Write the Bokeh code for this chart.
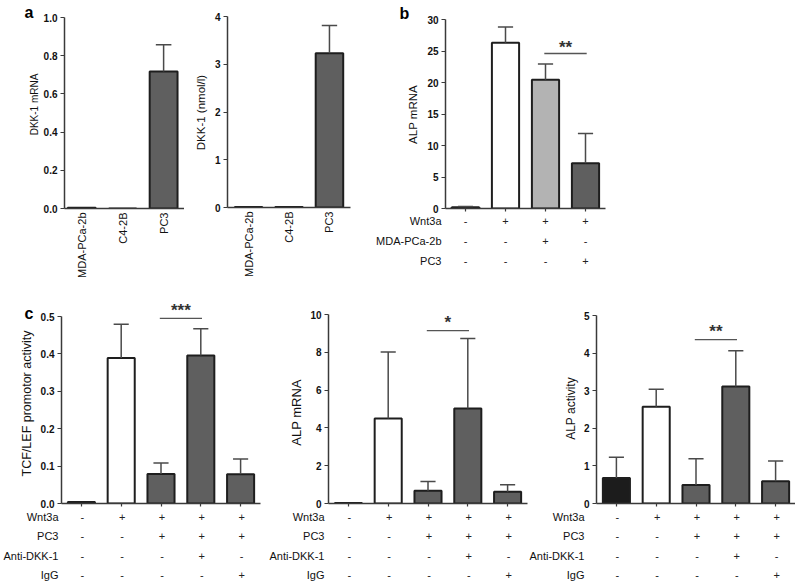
import math
from bokeh.plotting import figure
from bokeh.models import ColumnDataSource, FixedTicker, Range1d, PrintfTickFormatter
from bokeh.layouts import row, column
from bokeh.embed import file_html
from bokeh.resources import INLINE
from bokeh.core.properties import value

FONT = "Liberation Sans"
INK = "#111111"
AXIS = "#3a3a3a"
WHISK = "#4a4a4a"

# ---------------- data ----------------
a_cats = ["MDA-PCa-2b", "C4-2B", "PC3"]
a1_mrna = [0.004, 0.0, 0.717]
a1_top = [None, None, 0.857]
a2_nmol = [0.012, 0.012, 3.23]
a2_top = [None, None, 3.81]

b_alp = [0.2, 26.3, 20.45, 7.2]
b_top = [0.3, 28.8, 22.95, 11.9]
b_row_names = ["Wnt3a", "MDA-PCa-2b", "PC3"]
b_wnt3a = ["-", "+", "+", "+"]
b_mda = ["-", "-", "+", "-"]
b_pc3 = ["-", "-", "-", "+"]
b_sig = [2, 3, 24.6, "**"]

c_row_names = ["Wnt3a", "PC3", "Anti-DKK-1", "IgG"]
c_wnt3a = ["-", "+", "+", "+", "+"]
c_pc3 = ["-", "-", "+", "+", "+"]
c_anti = ["-", "-", "-", "+", "-"]
c_igg = ["-", "-", "-", "-", "+"]

c1_tcf = [0.004, 0.389, 0.079, 0.396, 0.078]
c1_top = [None, 0.479, 0.108, 0.467, 0.119]
c1_sig = [2, 3, 0.495, "***"]

c2_alp = [0.02, 4.5, 0.68, 5.03, 0.62]
c2_top = [None, 8.02, 1.16, 8.73, 0.99]
c2_sig = [2, 3, 9.15, "*"]

c3_act = [0.68, 2.57, 0.49, 3.11, 0.59]
c3_top = [1.23, 3.04, 1.19, 4.06, 1.13]
c3_sig = [2, 3, 4.36, "**"]

# ---------------- styles ----------------
DARK = "#5f5f5f"
a_colors = [DARK, DARK, DARK]
b_colors = ["#1a1a1a", "#ffffff", "#b3b3b3", DARK]
c_colors = ["#1a1a1a", "#ffffff", DARK, DARK, DARK]
c3_colors = ["#1c1c1c", "#ffffff", DARK, DARK, DARK]


def base_fig(x_range, y_range, frame, fig, **kw):
    fl, fr, ft, fb = frame
    gl, gr, gt, gb = fig
    p = figure(x_range=x_range, y_range=y_range,
               frame_width=fr - fl, frame_height=fb - ft,
               min_border_left=fl - gl, min_border_right=gr - fr,
               min_border_top=ft - gt, min_border_bottom=gb - fb,
               title_location=None, frame_align=False,
               output_backend="svg", toolbar_location=None, **kw)
    p.outline_line_color = None
    p.grid.visible = False
    p.background_fill_color = "white"
    p.border_fill_color = "white"
    return p


def pixel_fig(gl, gr, gt, gb):
    """text-only strip; data coordinates are page pixels (x, -y)"""
    return base_fig(Range1d(gl, gr), Range1d(-gb, -gt), (gl, gr, gt, gb), (gl, gr, gt, gb),
                    x_axis_location=None, y_axis_location=None)


def axis_title(p, text, cx, cy, size):
    p.text(x=[cx], y=[-cy], text=[text], angle=math.pi / 2, text_align="center",
           text_baseline="middle", text_font=value(FONT), text_font_size=size,
           text_color=INK)


def letter(p, text, lx, base_y):
    p.text(x=[lx], y=[-base_y], text=[text], text_align="left",
           text_baseline="alphabetic", text_font=value(FONT), text_font_style="bold",
           text_font_size="16px", text_color="#000000")


def chart(frame, fig, xr, yr, vals, tops, colors, yticks, yfmt, ybounds=None,
          xlabels=None, sig=None, star_py=None, star_size="17px"):
    fl, fr, ft, fb = frame
    p = base_fig(Range1d(*xr), Range1d(*yr), frame, fig)
    xa, ya = p.xaxis[0], p.yaxis[0]
    for ax in (xa, ya):
        ax.axis_line_color = AXIS
        ax.axis_line_width = 1.5
        ax.major_tick_line_color = AXIS
        ax.major_tick_line_width = 1.2
        ax.minor_tick_line_color = None
        ax.major_tick_in = 0
    ya.ticker = FixedTicker(ticks=yticks)
    ya.formatter = PrintfTickFormatter(format=yfmt)
    if ybounds is not None:
        ya.bounds = ybounds
    ya.major_tick_out = 4
    ya.major_label_standoff = 3
    ya.major_label_text_font = FONT
    ya.major_label_text_font_style = "bold"
    ya.major_label_text_font_size = "10px"
    ya.major_label_text_color = INK

    n = len(vals)
    if xlabels is not None:
        xa.ticker = FixedTicker(ticks=list(range(n)))
        xa.major_tick_out = 0
        xa.major_label_overrides = {i: lab for i, lab in enumerate(xlabels)}
        xa.major_label_orientation = math.pi / 2
        xa.major_label_standoff = 4
        xa.major_label_text_font = FONT
        xa.major_label_text_font_size = "11px"
        xa.major_label_text_color = INK
    else:
        xa.ticker = FixedTicker(ticks=[], minor_ticks=list(range(n)))
        xa.major_tick_out = 0
        xa.major_label_standoff = 0
        xa.minor_tick_line_color = AXIS
        xa.minor_tick_line_width = 1.2
        xa.minor_tick_in = 0
        xa.minor_tick_out = 3

    src = ColumnDataSource(dict(x=list(range(n)), top=vals, color=colors))
    p.vbar(x="x", top="top", bottom=0, width=0.68, source=src, fill_color="color",
           line_color="#1e1e1e", line_width=2)
    ex = [i for i, t in enumerate(tops) if t is not None]
    if ex:
        p.segment(x0=ex, y0=[vals[i] for i in ex], x1=ex, y1=[tops[i] for i in ex],
                  line_color=WHISK, line_width=1.5)
        p.segment(x0=[i - 0.19 for i in ex], y0=[tops[i] for i in ex],
                  x1=[i + 0.19 for i in ex], y1=[tops[i] for i in ex],
                  line_color=WHISK, line_width=1.5)
    if sig is not None:
        i0, i1, yv, stars = sig
        p.segment(x0=[i0 - 0.03], y0=[yv], x1=[i1 + 0.03], y1=[yv],
                  line_color="#555555", line_width=1.3)
        sy = yr[0] + (fb - star_py) / (fb - ft) * (yr[1] - yr[0])
        p.text(x=[(i0 + i1) / 2], y=[sy], text=[stars], text_align="center",
               text_baseline="middle", text_font=value(FONT), text_font_style="bold",
               text_font_size=star_size, text_color="#333333")
    return p


def table(frame, fig, xr, names, rows, row0, step, name_right):
    fl, fr, ft, fb = frame
    r_top = (ft - row0) / step
    r_bot = (fb - row0) / step
    p = base_fig(Range1d(*xr), Range1d(-r_bot, -r_top), frame, fig,
                 x_axis_location=None)
    ya = p.yaxis[0]
    ya.ticker = FixedTicker(ticks=[-i for i in range(len(names))])
    ya.major_label_overrides = {-i: nm for i, nm in enumerate(names)}
    ya.axis_line_color = None
    ya.major_tick_line_color = None
    ya.minor_tick_line_color = None
    ya.major_tick_in = 0
    ya.major_tick_out = 0
    ya.major_label_standoff = fl - name_right
    ya.major_label_text_font = FONT
    ya.major_label_text_font_style = "normal"
    ya.major_label_text_font_size = "11px"
    ya.major_label_text_color = INK
    n = len(rows[0])
    for i, signs in enumerate(rows):
        p.text(x=list(range(n)), y=[-i] * n, text=signs, text_align="center",
               text_baseline="middle", text_font=value(FONT), text_font_size="11px",
               text_color="#222222")
    return p


# ================= top row =================
a1L = pixel_fig(0, 40, 0, 300)
letter(a1L, "a", 24, 12)
axis_title(a1L, "DKK-1 mRNA", 34, 104, "10px")
pa1 = chart((62, 182, 17, 208), (40, 182, 0, 300), (-0.42, 2.51), (0, 1.0),
            a1_mrna, a1_top, a_colors, [0, 0.2, 0.4, 0.6, 0.8, 1.0], "%.1f",
            xlabels=a_cats)

a2L = pixel_fig(182, 209, 0, 300)
axis_title(a2L, "DKK-1 (nmol/l)", 198, 112, "11.5px")
pa2 = chart((222, 345, 16, 207), (209, 355, 0, 300), (-0.52, 2.52), (0, 4),
            a2_nmol, a2_top, a_colors, [0, 1, 2, 3, 4], "%d", xlabels=a_cats)

bL = pixel_fig(355, 418, 0, 214)
letter(bL, "b", 394, 13)
axis_title(bL, "ALP mRNA", 407, 114, "11.5px")
pb = chart((440, 600, 19, 208), (418, 795, 0, 214), (-0.5, 3.5), (0, 30),
           b_alp, b_top, b_colors, [0, 5, 10, 15, 20, 25, 30], "%d",
           sig=b_sig, star_py=47)
tb = table((440, 600, 214, 300), (355, 795, 214, 300), (-0.5, 3.5), b_row_names,
           [b_wnt3a, b_mda, b_pc3], 220, 20, 436)

top_row = row(a1L, pa1, a2L, pa2, column(row(bL, pb), tb))

# ================= bottom row =================
c_rows = [c_wnt3a, c_pc3, c_anti, c_igg]
CPX = 199 / 5.0  # pixels per category in panel c
CB = 510  # bottom of the chart strip / top of the table strip

c1L = pixel_fig(0, 37, 300, CB)
letter(c1L, "c", 24, 313)
axis_title(c1L, "TCF/LEF promotor activity", 26, 403, "12.5px")
c1_yend = 0.5 + (316 - 300) * 0.5 / (503 - 316)
pc1 = chart((61, 260, 300, 503), (37, 262, 300, CB), (-0.5, 4.5), (0, c1_yend),
            c1_tcf, c1_top, c_colors, [0, 0.1, 0.2, 0.3, 0.4, 0.5], "%.1f",
            ybounds=(0, 0.5), sig=c1_sig, star_py=310)

c2L = pixel_fig(262, 306, 300, CB)
axis_title(c2L, "ALP mRNA", 296, 412, "13px")
pc2 = chart((328, 527, 314, 503), (306, 530, 300, CB), (-0.5, 4.5), (0, 10),
            c2_alp, c2_top, c_colors, [0, 2, 4, 6, 8, 10], "%d",
            sig=c2_sig, star_py=322)

c3L = pixel_fig(530, 580, 300, CB)
axis_title(c3L, "ALP activity", 570, 408, "12px")
pc3 = chart((596, 795, 315, 503), (580, 795, 300, CB), (-0.5, 4.5), (0, 5),
            c3_act, c3_top, c3_colors, [0, 1, 2, 3, 4, 5], "%d",
            sig=c3_sig, star_py=331)

tc1 = table((61, 260, CB, 581), (0, 262, CB, 581), (-0.5, 4.5), c_row_names,
            c_rows, 516, 19.6, 57)
tc2 = table((328, 522, CB, 581), (262, 522, CB, 581),
            (-0.5, -0.5 + (522 - 328) / CPX), c_row_names, c_rows, 516, 19.6, 323)
tc3 = table((596, 795, CB, 581), (522, 795, CB, 581), (-0.5, 4.5), c_row_names,
            c_rows, 516, 19.6, 583)

bottom = column(row(c1L, pc1, c2L, pc2, c3L, pc3), row(tc1, tc2, tc3))

layout = column(top_row, bottom)

open("out.html", "w").write(file_html(layout, INLINE))
